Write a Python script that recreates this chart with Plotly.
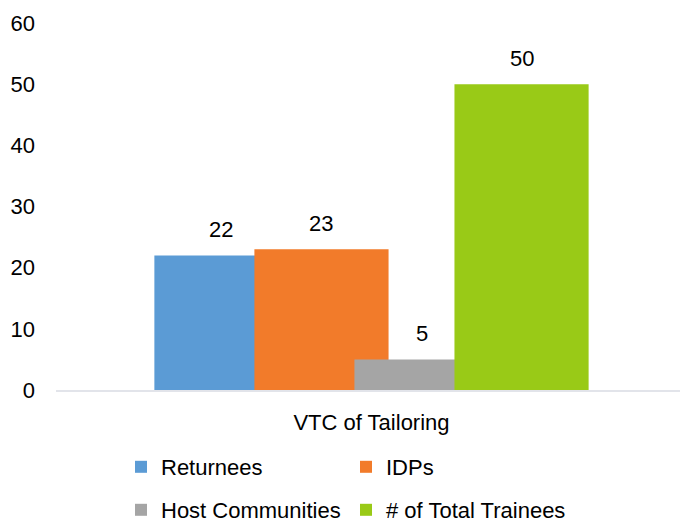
import plotly.graph_objects as go

# Chart data
category = "VTC of Tailoring"
series_names = ["Returnees", "IDPs", "Host Communities", "# of Total Trainees"]
series_values = [22, 23, 5, 50]
series_colors = ["#5b9bd5", "#f27b2a", "#a5a5a5", "#99ca17"]
y_ticks = [0, 10, 20, 30, 40, 50, 60]

FONT = "Liberation Sans, Arial, sans-serif"
FS = 22
H = 523

# Overlapping clustered bars: each bar is wider than the step between bars
bar_width = 0.215
bar_step = 0.1603
n = len(series_values)
group_start = -((n - 1) * bar_step + bar_width) / 2

fig = go.Figure()
annotations = []
for i, (name, val, col) in enumerate(zip(series_names, series_values, series_colors)):
    off = group_start + i * bar_step
    fig.add_trace(go.Bar(
        x=[category], y=[val], name=name,
        marker=dict(color=col, line=dict(width=0)),
        width=bar_width, offset=off,
        legend="legend" if i < 2 else "legend2",
        hoverinfo="skip",
    ))
    annotations.append(dict(
        x=off + bar_width / 2, y=val, xref="x", yref="y",
        text=str(val), showarrow=False, yanchor="bottom", yshift=11,
        font=dict(family=FONT, size=FS, color="#000000"),
    ))

legend_common = dict(
    orientation="h", xanchor="left", yanchor="middle",
    xref="container", yref="container",
    font=dict(family=FONT, size=FS, color="#000000"),
    entrywidth=180, entrywidthmode="pixels",
    bgcolor="rgba(0,0,0,0)", itemclick=False, itemdoubleclick=False,
)

fig.update_layout(
    width=680, height=H,
    margin=dict(l=56, r=0, t=23, b=133, autoexpand=False),
    paper_bgcolor="white", plot_bgcolor="white",
    barmode="overlay",
    showlegend=True,
    font=dict(family=FONT, size=FS, color="#000000"),
    xaxis=dict(
        type="category", range=[-0.5 - 0.0056, 0.5 - 0.0056],
        showline=True, linecolor="#e2e4ea", linewidth=2,
        showgrid=False, zeroline=False, ticks="",
        ticklabelstandoff=12,
        tickfont=dict(family=FONT, size=FS, color="#000000"),
    ),
    yaxis=dict(
        range=[0, 60], tickvals=y_ticks, showgrid=False, zeroline=False,
        showline=False, ticks="", ticklabelstandoff=20,
        tickfont=dict(family=FONT, size=FS, color="#000000"),
    ),
    legend=dict(x=121 / 680, y=1 - 467 / H, **legend_common),
    legend2=dict(x=121 / 680, y=1 - 510 / H, **legend_common),
    annotations=annotations,
)

fig.write_html("out.html")
